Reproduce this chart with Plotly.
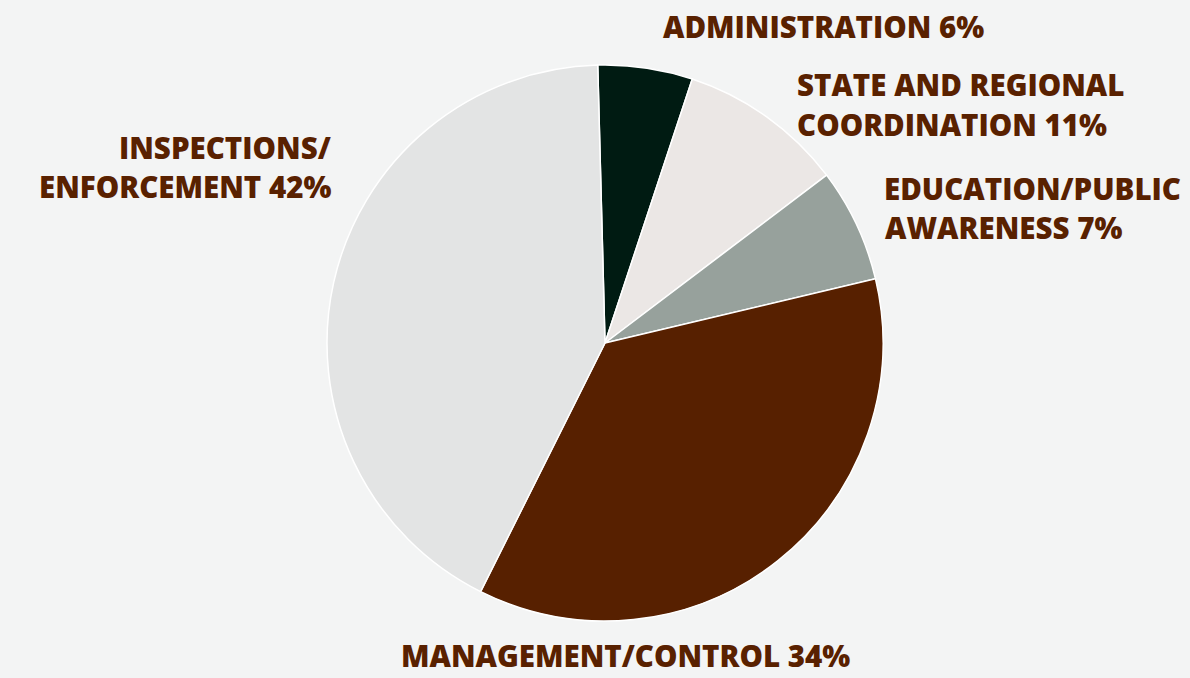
import plotly.graph_objects as go

categories = ["Administration", "State and Regional Coordination", "Education/Public Awareness",
              "Management/Control", "Inspections/Enforcement"]
shares = [5.5, 9.6, 6.6, 36.1, 42.2]
colors = ["#001b12", "#ebe7e5", "#97a19c", "#572000", "#e3e4e4"]

label_lines = [
    ("ADMINISTRATION 6%", 662, 27, "left"),
    ("STATE AND REGIONAL", 796, 85, "left"),
    ("COORDINATION 11%", 796, 124, "left"),
    ("EDUCATION/PUBLIC", 883, 188, "left"),
    ("AWARENESS 7%", 884, 227, "left"),
    ("INSPECTIONS/", 332, 148, "right"),
    ("ENFORCEMENT 42%", 332, 186, "right"),
    ("MANAGEMENT/CONTROL 34%", 400, 655, "left"),
]

W, H = 1190, 678
cx, cy, r = 605, 343, 278

fig = go.Figure(go.Pie(
    labels=categories,
    values=shares,
    sort=False,
    direction="clockwise",
    rotation=-1.5,
    marker=dict(colors=colors, line=dict(color="white", width=1.5)),
    textinfo="none",
    hoverinfo="label+percent",
    showlegend=False,
    domain=dict(x=[(cx - r) / W, (cx + r) / W], y=[(H - cy - r) / H, (H - cy + r) / H]),
))

for text, px, py, anchor in label_lines:
    fig.add_annotation(
        text=text, x=px / W, y=1 - py / H, xref="paper", yref="paper",
        xanchor=anchor, yanchor="middle", showarrow=False, borderpad=0,
        font=dict(family="Open Sans", size=29.5, color="#592100", weight=800),
    )

fig.update_layout(
    width=W, height=H,
    margin=dict(l=0, r=0, t=0, b=0),
    paper_bgcolor="#f3f4f4",
    plot_bgcolor="#f3f4f4",
)

fig.write_html(
    "out.html",
    config={"displayModeBar": False},
    post_script="document.body.style.margin='0';document.body.style.overflow='hidden';",
)
